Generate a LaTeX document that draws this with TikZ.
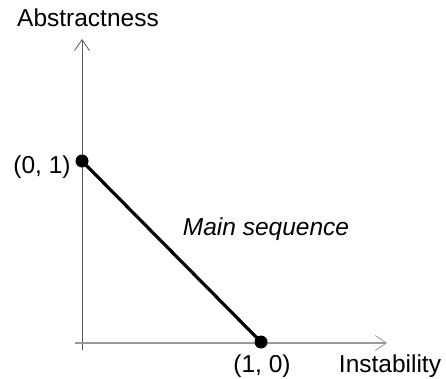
\documentclass[tikz,border=0pt]{standalone}
\usepackage{fontspec}
\setmainfont{Liberation Sans}
\usetikzlibrary{arrows.meta}
\begin{document}
\begin{tikzpicture}[x=1pt,y=1pt,
  lbl/.style={inner sep=0pt,font=\fontsize{24.5}{28}\selectfont},
  dotnode/.style={circle,fill=black,inner sep=0pt,minimum size=13pt},
  axisv/.style={draw=black!65,line width=1pt,-{Straight Barb[length=11pt,width=15pt,line width=0.8pt]}},
  axish/.style={draw=black!40,line width=1.6pt,-{Straight Barb[length=11pt,width=15pt,line width=0.8pt]}},
  mainline/.style={line width=3.2pt,black}]
\useasboundingbox (0,0) rectangle (446,378);
% axes
\coordinate (vbot) at (82,28);
\coordinate (vtop) at (82,339);
\coordinate (hleft) at (75,35);
\coordinate (hright) at (387,35);
\draw[axisv] (vbot) -- (vtop);
\draw[axish] (hleft) -- (hright);
% points
\node[dotnode] (p01) at (82,217) {};
\node[dotnode] (p10) at (261,36) {};
\draw[mainline] (p01.center) -- (p10.center);
% labels
\node[lbl,anchor=base] (abs) at (88,351) {Abstractness};
\node[lbl,anchor=base] (inst) at (390,5.5) {Instability};
\node[lbl,anchor=base] (l01) at (42,205) {(0, 1)};
\node[lbl,anchor=base] (l10) at (262,5.5) {(1, 0)};
\node[lbl,anchor=base,font=\fontsize{24.5}{28}\selectfont\itshape] (ms) at (266,143) {Main sequence};
\end{tikzpicture}
\end{document}
